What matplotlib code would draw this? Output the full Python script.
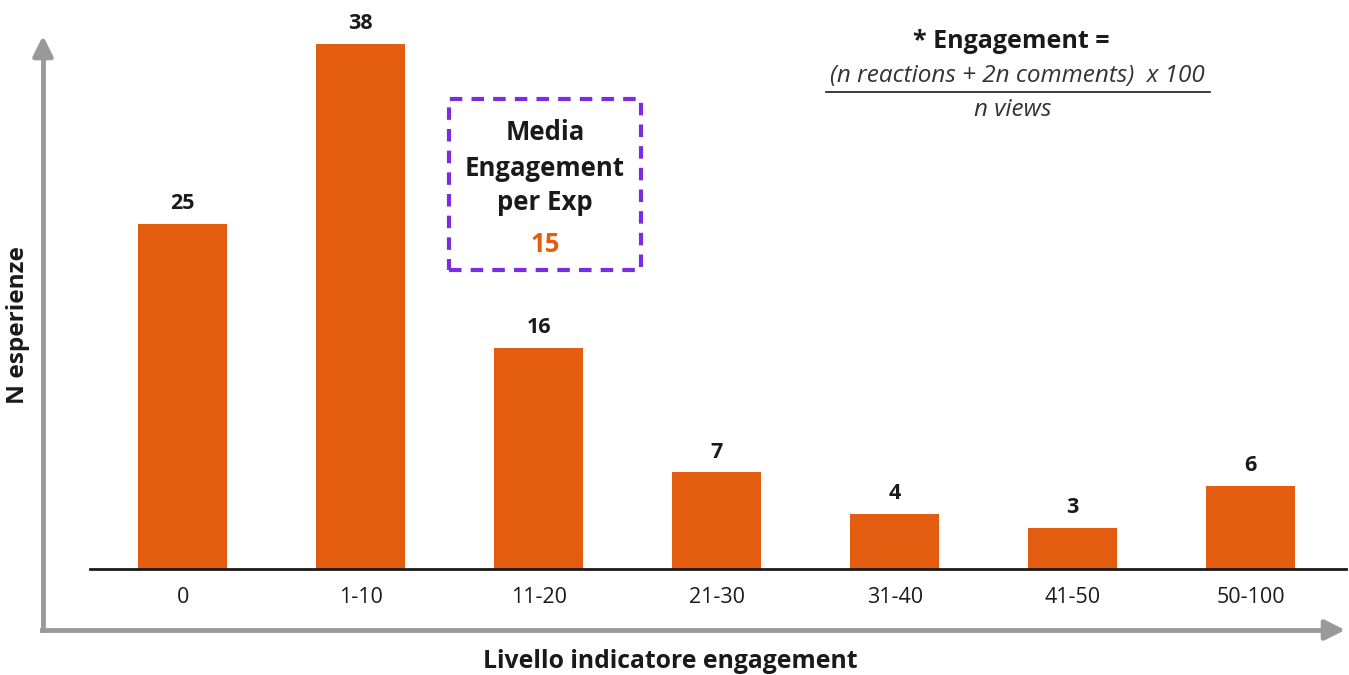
import matplotlib.pyplot as plt
from matplotlib.patches import Rectangle
import numpy as np

categories = ['0', '1-10', '11-20', '21-30', '31-40', '41-50', '50-100']
counts = [25, 38, 16, 7, 4, 3, 6]
media_engagement = 15

orange = '#E45C0F'
purple = '#7B2BE2'
grey = '#999999'
dark = '#1A1A1A'

plt.rcParams['font.family'] = ['Open Sans', 'DejaVu Sans']

W, H = 1349, 675
fig = plt.figure(figsize=(W / 100, H / 100), dpi=100)

def fx(px):
    return px / W

def fy(py):
    return 1 - py / H

# axes: baseline at y=569 px, from x=90 to 1346 px
ax = fig.add_axes([fx(90), fy(569), fx(1346) - fx(90), fy(0) - fy(569)])
x = np.arange(len(categories))
ax.bar(x, counts, width=0.5, color=orange)
ax.set_xlim(-0.522, 6.535)
ax.set_ylim(0, 41.2)

for xi, v in zip(x, counts):
    ax.annotate(str(v), (xi, v), xytext=(0, 7), textcoords='offset points',
                ha='center', va='bottom', fontsize=15.5, fontweight='bold', color=dark)

ax.set_xticks(x)
ax.set_xticklabels(categories, fontsize=15.5, color=dark)
ax.tick_params(axis='x', length=0, pad=13)
ax.set_yticks([])
for s in ['top', 'right', 'left']:
    ax.spines[s].set_visible(False)
ax.spines['bottom'].set_color(dark)
ax.spines['bottom'].set_linewidth(2)

# grey arrows (outer axes)
fig.add_artist(plt.Line2D([fx(43), fx(43)], [fy(630), fy(50)], color=grey, lw=3.5))
fig.add_artist(plt.Line2D([fx(42), fx(1330)], [fy(630), fy(630)], color=grey, lw=3.5))
ax.annotate('', xy=(fx(43), fy(33)), xytext=(fx(43), fy(60)), xycoords='figure fraction',
            arrowprops=dict(arrowstyle='-|>,head_length=1.2,head_width=0.6', color=grey, lw=3.5))
ax.annotate('', xy=(fx(1348), fy(630)), xytext=(fx(1320), fy(630)), xycoords='figure fraction',
            arrowprops=dict(arrowstyle='-|>,head_length=1.2,head_width=0.6', color=grey, lw=3.5))

fig.text(fx(670), fy(661), 'Livello indicatore engagement', ha='center', va='center',
         fontsize=17.8, fontweight='bold', color=dark)
fig.text(fx(18), fy(325), 'N esperienze', ha='center', va='center', rotation=90,
         fontsize=17.6, fontweight='bold', color=dark)

# formula
fig.text(fx(1011), fy(42), '* Engagement =', ha='center', va='center',
         fontsize=18, fontweight='bold', color=dark)
fig.text(fx(1017), fy(76), '(n reactions + 2n comments)  x 100', ha='center', va='center',
         fontsize=17.5, fontstyle='italic', color='#333333')
fig.add_artist(plt.Line2D([fx(826), fx(1210)], [fy(92), fy(92)], color=dark, lw=1.2))
fig.text(fx(1013), fy(110), 'n views', ha='center', va='center',
         fontsize=17.5, fontstyle='italic', color='#333333')

# dashed box
fig.add_artist(Rectangle((fx(449), fy(270)), fx(641) - fx(449), fy(99) - fy(270),
                         fill=False, edgecolor=purple, lw=3, linestyle=(0, (3, 2.2)),
                         transform=fig.transFigure))
for label, py in [('Media', 133), ('Engagement', 168), ('per Exp', 203)]:
    fig.text(fx(545), fy(py), label, ha='center', va='center',
             fontsize=18.5, fontweight='bold', color=dark)
fig.text(fx(545), fy(244), str(media_engagement), ha='center', va='center',
         fontsize=18.5, fontweight='bold', color=orange)

fig.savefig('out.png', dpi=100)
